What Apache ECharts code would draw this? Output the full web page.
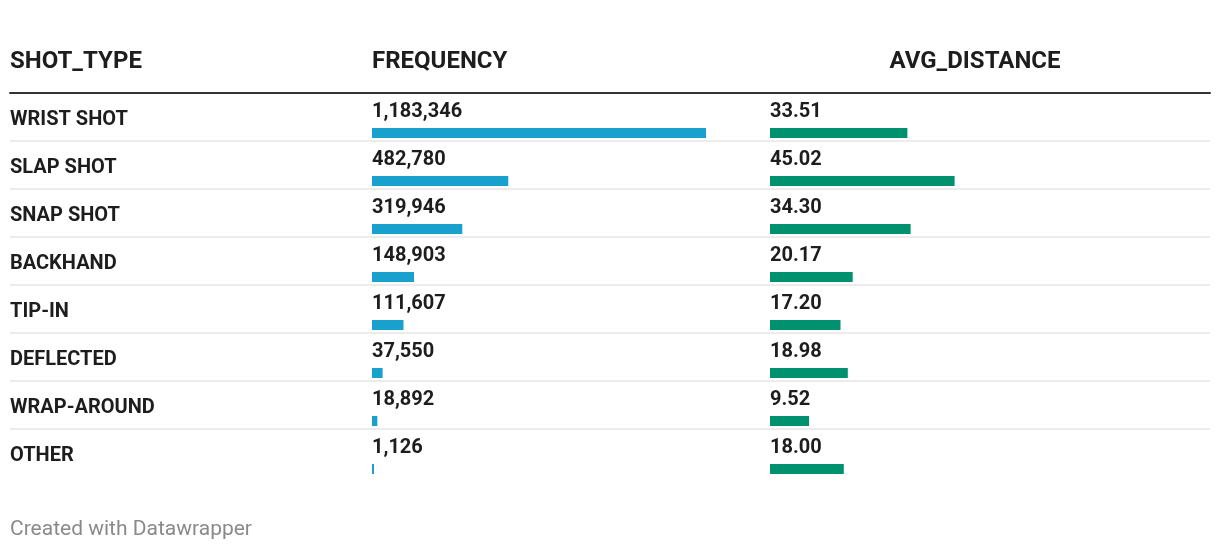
<!DOCTYPE html>
<html>
<head>
<meta charset="utf-8">
<script src="https://cdn.jsdelivr.net/npm/echarts@6/dist/echarts.min.js"></script>
<style>
html,body{margin:0;padding:0;background:#fff;}
#chart{width:1220px;height:552px;}
</style>
</head>
<body>
<div id="chart"></div>
<script>
const shotTypes = ['WRIST SHOT','SLAP SHOT','SNAP SHOT','BACKHAND','TIP-IN','DEFLECTED','WRAP-AROUND','OTHER'];
const frequency = [1183346, 482780, 319946, 148903, 111607, 37550, 18892, 1126];
const avgDistance = [33.51, 45.02, 34.30, 20.17, 17.20, 18.98, 9.52, 18.00];
const headers = ['SHOT_TYPE','FREQUENCY','AVG_DISTANCE'];
const footer = 'Created with Datawrapper';

const FONT = 'Roboto, "Noto Sans", sans-serif';
const TXT = '#1d1d1d';
const freqMax = Math.max(...frequency);
const distMax = Math.max(...avgDistance);
const rowH = 48;
const n = shotTypes.length;

const chart = echarts.init(document.getElementById('chart'), null, {renderer:'canvas'});

const valueLabel = (fmt) => ({
  show: true,
  position: [0, -16],
  align: 'left',
  verticalAlign: 'middle',
  fontFamily: FONT,
  fontWeight: 'bold',
  fontSize: 20,
  color: TXT,
  formatter: fmt
});

const headStyle = {fontFamily:FONT, fontWeight:'bold', fontSize:24, color:TXT, lineHeight:24};

chart.setOption({
  backgroundColor: '#fff',
  animation: false,
  title: [
    {text: headers[0], left: 10, top: 50, padding: 0, textStyle: headStyle},
    {text: headers[1], left: 372, top: 50, padding: 0, textStyle: headStyle},
    {text: headers[2], left: 975, textAlign:'center', top: 50, padding: 0, textStyle: headStyle},
    {text: footer, left: 10, top: 519, padding: 0, textStyle:{fontFamily:FONT, fontWeight:'normal', fontSize:21, color:'#8a8a8a', lineHeight:22}}
  ],
  grid: [
    {left: 10, width: 1200, top: 93, height: rowH * n},
    {left: 372, width: 334, top: 109, height: rowH * n},
    {left: 770, width: 4.1 * distMax, top: 109, height: rowH * n}
  ],
  xAxis: [
    {gridIndex:0, type:'value', position:'top', min:0, max:1,
     axisLine:{show:true, onZero:false, lineStyle:{color:'#333', width:2}},
     axisTick:{show:false}, axisLabel:{show:false}, splitLine:{show:false}},
    {gridIndex:1, type:'value', min:0, max:freqMax, show:false},
    {gridIndex:2, type:'value', min:0, max:distMax, show:false}
  ],
  yAxis: [
    {gridIndex:0, type:'category', inverse:true, data: shotTypes,
     axisLine:{show:false}, axisTick:{show:false},
     axisLabel:{show:true, inside:true, margin:0, align:'left', verticalAlign:'middle',
       formatter: v => '{a|' + v + '}',
       rich: {a: {fontFamily:FONT, fontWeight:'bold', fontSize:20, color:TXT, lineHeight:20, padding:[5,0,0,0]}}},
     splitLine:{show:true, showMinLine:false, showMaxLine:false, lineStyle:{color:'#ececec', width:2}}},
    {gridIndex:1, type:'category', inverse:true, data: shotTypes, show:false},
    {gridIndex:2, type:'category', inverse:true, data: shotTypes, show:false}
  ],
  series: [
    {type:'bar', xAxisIndex:1, yAxisIndex:1, data: frequency, barWidth:10, barMinHeight:2,
     itemStyle:{color:'#18a1cd'}, silent:true,
     label: valueLabel(p => p.value.toLocaleString('en-US'))},
    {type:'bar', xAxisIndex:2, yAxisIndex:2, data: avgDistance, barWidth:10,
     itemStyle:{color:'#00916f'}, silent:true,
     label: valueLabel(p => p.value.toFixed(2))}
  ]
});
</script>
</body>
</html>
